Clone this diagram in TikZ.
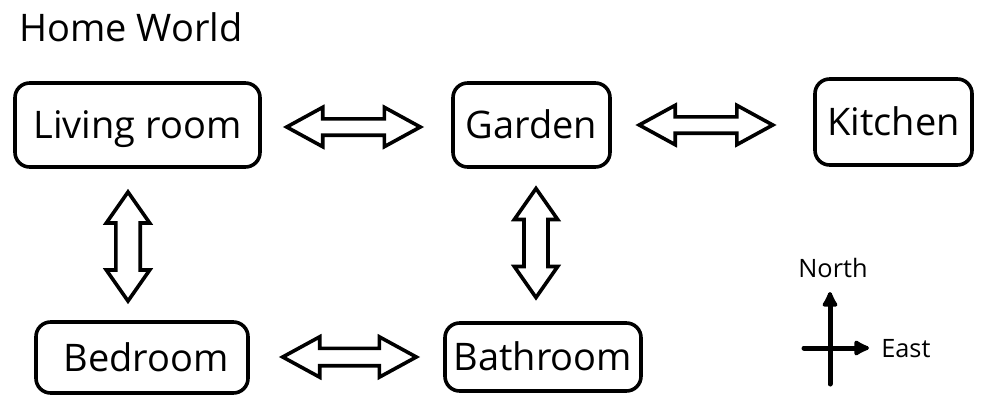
\documentclass[tikz,border=0pt]{standalone}
\usepackage{fontspec}
\setmainfont{Open Sans}
\usetikzlibrary{arrows.meta}
\begin{document}
\begin{tikzpicture}[x=0.75pt,y=-0.75pt,
  room/.style={draw, line width=2.7pt, rounded corners=11pt, inner sep=0pt,
    font=\fontsize{28.5pt}{34pt}\selectfont, text height=20.5pt, text depth=0pt},
  blockarrow/.style={draw, line width=2.7pt, fill=white, line join=miter},
  pics/barrow/.style n args={4}{code={
    \path[blockarrow] (-#1,0) -- (-#1+#4,-#2) -- (-#1+#4,-#3) -- (#1-#4,-#3)
      -- (#1-#4,-#2) -- (#1,0) -- (#1-#4,#2) -- (#1-#4,#3) -- (-#1+#4,#3)
      -- (-#1+#4,#2) -- cycle;
  }},
  compass/.style={line width=3.75pt, line cap=round, -{Latex[length=14pt,width=14pt,round]}},
  clabel/.style={font=\fontsize{19pt}{23pt}\selectfont, inner sep=0pt}
]
\useasboundingbox (0,0) rectangle (989,411);
\node[anchor=base west, inner sep=0pt, font=\fontsize{28.5pt}{34pt}\selectfont] (title) at (19,41) {Home World};

\node[room, minimum width=245*0.75pt, minimum height=84*0.75pt] (living) at (137.5,125) {Living room};
\node[room, minimum width=157*0.75pt, minimum height=84*0.75pt] (garden) at (531.5,125) {Garden};
\node[room, minimum width=157*0.75pt, minimum height=86*0.75pt] (kitchen) at (893.5,122) {Kitchen};
\node[room, minimum width=212*0.75pt, minimum height=71*0.75pt] (bedroom) at (142,357.5) {\hspace*{6pt}Bedroom};
\node[room, minimum width=196*0.75pt, minimum height=68*0.75pt] (bathroom) at (543,357) {Bathroom};

\pic (a1) at (353.5,127) {barrow={66.8}{19.7}{8.2}{36}};
\pic (a2) at (706,125) {barrow={66.8}{19.7}{8.2}{36}};
\pic (a3) at (349.5,357) {barrow={66.8}{20.2}{8.7}{37}};
\pic[rotate=90] (v1) at (128,246.5) {barrow={54.5}{21.7}{12.2}{31}};
\pic[rotate=90] (v2) at (536,243) {barrow={54.5}{21.7}{12}{31}};

\coordinate (cN) at (830,292);
\coordinate (cS) at (830,384);
\coordinate (cW) at (804,348);
\coordinate (cE) at (869,348);
\draw[compass] (cS) -- (cN);
\draw[compass] (cW) -- (cE);
\node[clabel, anchor=base] (north) at (833,277) {North};
\node[clabel, anchor=base west] (east) at (881,357) {East};
\end{tikzpicture}
\end{document}
